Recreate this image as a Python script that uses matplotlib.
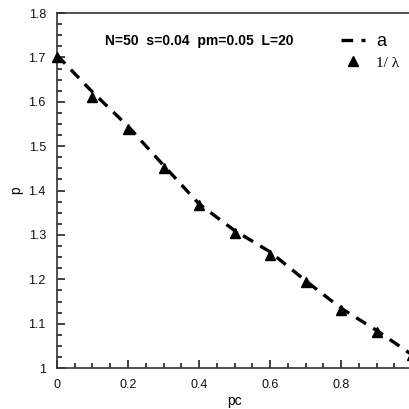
import numpy as np
import matplotlib
matplotlib.use('Agg')
import matplotlib.pyplot as plt
from matplotlib.ticker import MultipleLocator, FuncFormatter

plt.rcParams['font.family'] = ['Liberation Sans', 'DejaVu Sans']

# curve a (dashed)
pc_a = [0.0, 0.1, 0.2, 0.3, 0.4, 0.5, 0.6, 0.7, 0.8, 0.9, 1.0]
p_a = [1.705, 1.622, 1.545, 1.457, 1.370, 1.310, 1.262, 1.197, 1.135, 1.085, 1.030]
# 1/lambda points (triangles)
pc_l = [0.0, 0.1, 0.2, 0.3, 0.4, 0.5, 0.6, 0.7, 0.8, 0.9, 1.0]
p_l = [1.700, 1.611, 1.539, 1.451, 1.367, 1.304, 1.255, 1.194, 1.131, 1.081, 1.030]

fig = plt.figure(figsize=(4.1, 4.09), dpi=100)
ax = fig.add_axes([0.139, 0.100, 0.866, 0.868])

ax.plot(pc_a, p_a, color='black', lw=2.4, ls=(0, (3.5, 2.5)), label='a', zorder=2)
ax.plot(pc_l, p_l, ls='none', marker='^', ms=7, color='black', label='1/ λ', clip_on=False, zorder=3)

ax.set_xlim(0, 1)
ax.set_ylim(1, 1.8)
ax.xaxis.set_major_locator(MultipleLocator(0.2))
ax.xaxis.set_minor_locator(MultipleLocator(0.05))
ax.yaxis.set_major_locator(MultipleLocator(0.1))
ax.yaxis.set_minor_locator(MultipleLocator(0.025))

def fmt_x(v, pos):
    if abs(v - 1) < 1e-9:
        return ''
    return '0' if abs(v) < 1e-9 else '%.1f' % v

def fmt_y(v, pos):
    return ('%.1f' % v).rstrip('0').rstrip('.')

ax.xaxis.set_major_formatter(FuncFormatter(fmt_x))
ax.yaxis.set_major_formatter(FuncFormatter(fmt_y))

ax.tick_params(which='both', direction='in', top=False, right=False, colors='#222222', labelcolor='#111111', labelsize=9)
ax.tick_params(which='major', length=6, width=1.2, pad=8)
ax.tick_params(which='minor', length=3.5, width=1.2)
for s in ['left', 'bottom', 'top']:
    ax.spines[s].set_linewidth(1.2)
    ax.spines[s].set_color('#333333')
ax.spines['right'].set_visible(False)

ax.set_xlabel('pc', fontsize=10, labelpad=2)
ax.set_ylabel('p', fontsize=10, labelpad=4)

ax.text(0.40, 0.92, 'N=50  s=0.04  pm=0.05  L=20', transform=ax.transAxes,
        ha='center', va='center', fontsize=10, fontweight='bold')

leg = ax.legend(loc='upper right', bbox_to_anchor=(1.01, 0.99), frameon=False,
                fontsize=13, handlelength=1.35, handletextpad=0.6, labelspacing=0.25)
texts = leg.get_texts()
texts[1].set_fontfamily(['Liberation Serif', 'DejaVu Serif'])
texts[1].set_fontsize(11)

fig.savefig('out.png', dpi=100)
